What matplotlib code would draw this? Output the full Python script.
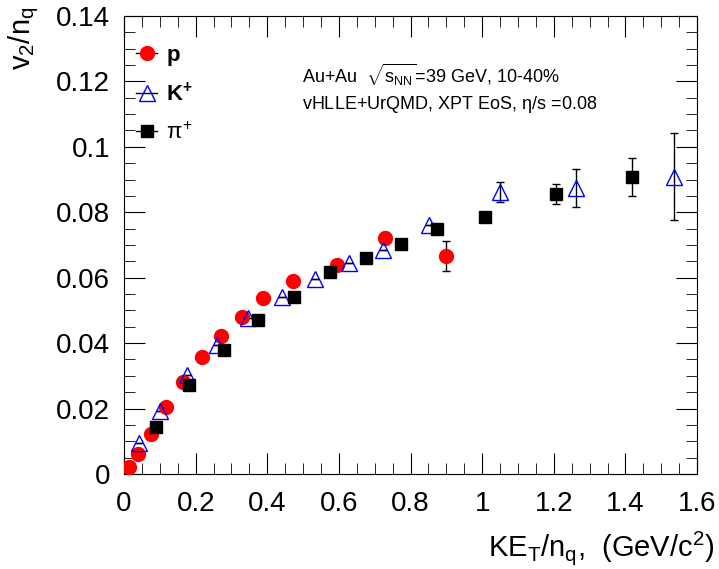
import matplotlib
matplotlib.use('Agg')
import matplotlib.pyplot as plt
from matplotlib.lines import Line2D
from matplotlib.ticker import MultipleLocator

plt.rcParams['font.family'] = ['Liberation Sans', 'DejaVu Sans']
plt.rcParams['mathtext.fontset'] = 'custom'
plt.rcParams['mathtext.rm'] = 'Liberation Sans'
plt.rcParams['mathtext.it'] = 'Liberation Sans'
plt.rcParams['mathtext.bf'] = 'Liberation Sans:bold'

# データ
p_x = [0.014, 0.039, 0.075, 0.117, 0.165, 0.218, 0.271, 0.330, 0.388, 0.472, 0.595, 0.729, 0.899]
p_y = [0.0021, 0.0061, 0.0122, 0.0205, 0.0281, 0.0358, 0.0422, 0.0480, 0.0538, 0.0590, 0.0639, 0.0721, 0.0667]
p_err = [0, 0, 0, 0, 0, 0, 0, 0, 0, 0, 0, 0.0018, 0.0046]

k_x = [0.042, 0.101, 0.176, 0.260, 0.346, 0.441, 0.534, 0.629, 0.724, 0.852, 1.050, 1.262, 1.536]
k_y = [0.0095, 0.0193, 0.0302, 0.0394, 0.0477, 0.0540, 0.0596, 0.0645, 0.0685, 0.0761, 0.0862, 0.0874, 0.0908]
k_err = [0, 0, 0, 0, 0, 0, 0, 0, 0, 0, 0.0030, 0.0058, 0.0133]

pi_x = [0.089, 0.182, 0.279, 0.374, 0.475, 0.575, 0.676, 0.774, 0.874, 1.008, 1.207, 1.419]
pi_y = [0.0144, 0.0272, 0.0379, 0.0471, 0.0541, 0.0618, 0.0660, 0.0703, 0.0749, 0.0786, 0.0856, 0.0908]
pi_err = [0, 0, 0, 0, 0, 0, 0, 0, 0, 0, 0.0030, 0.0057]

fig = plt.figure(figsize=(7.19, 5.69), dpi=100)
ax = fig.add_axes([0.1725, 0.167, 0.797, 0.805])

ekw = dict(fmt='none', ecolor='black', elinewidth=1, capsize=3, capthick=1)
ax.errorbar(p_x, p_y, yerr=p_err, **ekw)
ax.errorbar(k_x, k_y, yerr=k_err, **ekw)
ax.errorbar(pi_x, pi_y, yerr=pi_err, **ekw)

ax.plot(p_x, p_y, 'o', color='red', markersize=10, zorder=3)
ax.plot(k_x, k_y, '^', mfc='none', mec='blue', markersize=11, mew=1, zorder=3)
ax.plot(pi_x, pi_y, 's', color='black', markersize=8.5, zorder=3)

ax.set_xlim(0, 1.6)
ax.set_ylim(0, 0.14)
ax.xaxis.set_major_locator(MultipleLocator(0.2))
ax.xaxis.set_minor_locator(MultipleLocator(0.05))
ax.yaxis.set_major_locator(MultipleLocator(0.02))
ax.yaxis.set_minor_locator(MultipleLocator(0.005))
ax.xaxis.set_major_formatter(matplotlib.ticker.FuncFormatter(lambda v, p: f'{v:g}'))
ax.yaxis.set_major_formatter(matplotlib.ticker.FuncFormatter(lambda v, p: f'{v:g}'))
ax.tick_params(which='both', direction='in', top=True, right=True, labelsize=20)
ax.tick_params(which='major', length=15, pad=10)
ax.tick_params(which='minor', length=8)
ax.tick_params(axis='x', which='major', pad=12)

ax.set_xlabel(r'KE$_{\rm T}$/n$_{\rm q}$,  (GeV/c$^{2}$)', fontsize=21, loc='right')
ax.set_ylabel(r'v$_{2}$/n$_{\rm q}$', fontsize=21, loc='top')
ax.xaxis.set_label_coords(1.03, -0.12)
ax.yaxis.set_label_coords(-0.145, 1.02)

# 凡例
handles = [
    Line2D([], [], color='black', lw=1, marker='o', mfc='red', mec='red', markersize=10),
    Line2D([], [], color='black', lw=1, marker='^', mfc='none', mec='blue', markersize=11),
    Line2D([], [], color='black', lw=1, marker='s', mfc='black', mec='black', markersize=8.5),
]
leg = ax.legend(handles, ['p', r'K$^{+}$', r'$\pi^{+}$'], loc='upper left',
                bbox_to_anchor=(0.0, 0.963), frameon=False, fontsize=16,
                handlelength=0.95, handletextpad=0.4, labelspacing=0.75, borderaxespad=0.15)
texts = leg.get_texts()
texts[0].set_fontweight('bold')
texts[1].set_fontweight('bold')
texts[1].set_text(r'$\mathbf{K^{+}}$')
texts[2].set_family(['Liberation Serif', 'DejaVu Serif'])

ax.text(0.31, 0.871, r'Au+Au  $\sqrt{s_{\rm NN}}$=39 GeV, 10-40%', transform=ax.transAxes,
        fontsize=13, va='center')
ax.text(0.31, 0.806, r'vHLLE+UrQMD, XPT EoS, $\eta$/s =0.08', transform=ax.transAxes,
        fontsize=13, va='center')

fig.savefig('out.png', dpi=100)
